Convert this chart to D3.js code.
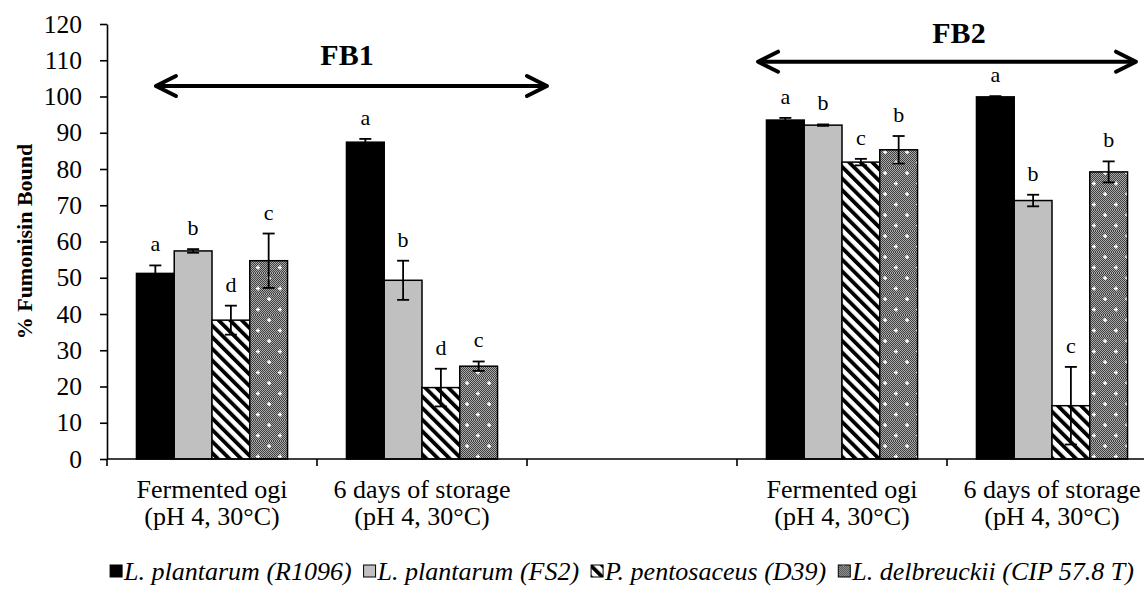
<!DOCTYPE html>
<html>
<head>
<meta charset="utf-8">
<script src="https://cdn.jsdelivr.net/npm/d3@7"></script>
<style>
  body { margin: 0; background: #fff; }
  svg { display: block; font-family: "Liberation Serif", "Times New Roman", serif; }
</style>
</head>
<body>
<script>
// categories (third slot is the empty spacer between FB1 and FB2)
var catLine1 = ["Fermented ogi", "6 days of storage", "", "Fermented ogi", "6 days of storage"];
var catLine2 = ["(pH 4, 30°C)", "(pH 4, 30°C)", "", "(pH 4, 30°C)", "(pH 4, 30°C)"];

var seriesNames = ["L. plantarum (R1096)", "L. plantarum (FS2)", "P. pentosaceus (D39)", "L. delbreuckii (CIP 57.8 T)"];

// % fumonisin bound
var r1096 = [51.2, 87.4, null, 93.5, 99.9];
var fs2   = [57.4, 49.3, null, 92.1, 71.3];
var d39   = [38.3, 19.7, null, 81.9, 14.7];
var cip   = [54.7, 25.6, null, 85.3, 79.2];

// error bars (+/-)
var r1096Err = [2.2, 0.9, null, 0.6, 0.2];
var fs2Err   = [0.5, 5.4, null, 0.2, 1.6];
var d39Err   = [4.0, 5.2, null, 0.9, 10.7];
var cipErr   = [7.5, 1.3, null, 3.8, 2.9];

// significance letters
var r1096Sig = ["a", "a", null, "a", "a"];
var fs2Sig   = ["b", "b", null, "b", "b"];
var d39Sig   = ["d", "d", null, "c", "c"];
var cipSig   = ["c", "c", null, "b", "b"];

var yTicks = [0, 10, 20, 30, 40, 50, 60, 70, 80, 90, 100, 110, 120];

// FB1 / FB2 brackets, in category units and y values
var brackets = [
    { label: "FB1", from: 0.233, to: 2.095, yVal: 102.9, labelX: 1.143, labelY: 108.8 },
    { label: "FB2", from: 3.1, to: 4.9, yVal: 109.6, labelX: 4.057, labelY: 114.8 }
];

var W = 1144, H = 589;
var padL = 107, axisY = 459, axisTop = 24;
var bandW = 210;

var svg = d3.select("body").append("svg")
    .attr("width", W)
    .attr("height", H);

var defs = svg.append("defs");

// diagonal hatch
var hatch = defs.append("pattern")
    .attr("id", "hatch")
    .attr("patternUnits", "userSpaceOnUse")
    .attr("width", 8.2).attr("height", 8.2)
    .attr("patternTransform", "rotate(-45)");
hatch.append("rect").attr("width", 8.2).attr("height", 8.2).attr("fill", "#fff");
hatch.append("rect").attr("width", 3.8).attr("height", 8.2).attr("fill", "#000");

// fine checker underlay
var checker = defs.append("pattern")
    .attr("id", "checker")
    .attr("patternUnits", "userSpaceOnUse")
    .attr("width", 2).attr("height", 2);
checker.append("rect").attr("width", 2).attr("height", 2).attr("fill", "#404040");
checker.append("rect").attr("width", 1).attr("height", 1).attr("fill", "#aaaaaa");
checker.append("rect").attr("x", 1).attr("y", 1).attr("width", 1).attr("height", 1).attr("fill", "#aaaaaa");

// checker with white sparkle dots
var dots = defs.append("pattern")
    .attr("id", "dots")
    .attr("patternUnits", "userSpaceOnUse")
    .attr("width", 22).attr("height", 21);
dots.append("rect").attr("width", 22).attr("height", 21).attr("fill", "url(#checker)");
[[5, 5], [16, 15.5]].forEach(function (p) {
    dots.append("rect").attr("x", p[0] - 2).attr("y", p[1] - 0.6).attr("width", 4).attr("height", 1.4).attr("fill", "#fff");
    dots.append("rect").attr("x", p[0] - 0.6).attr("y", p[1] - 2).attr("width", 1.4).attr("height", 4).attr("fill", "#fff");
});

var fills = ["#000000", "#c0c0c0", "url(#hatch)", "url(#dots)"];

var x0 = d3.scaleBand()
    .domain(d3.range(catLine1.length))
    .range([padL, padL + bandW * catLine1.length])
    .padding(0);

var x1 = d3.scaleBand()
    .domain(d3.range(seriesNames.length))
    .range([0, x0.bandwidth()])
    .paddingInner(0)
    .paddingOuter(0.78);

var y = d3.scaleLinear().domain([0, 120]).range([axisY, axisTop]);

var catX = d3.scaleLinear().domain([0, catLine1.length]).range([padL, padL + bandW * catLine1.length]);

//build the bar data
var values = [r1096, fs2, d39, cip];
var errs = [r1096Err, fs2Err, d39Err, cipErr];
var sigs = [r1096Sig, fs2Sig, d39Sig, cipSig];
var bars = [];
for (var s = 0; s < values.length; s++) {
    for (var c = 0; c < catLine1.length; c++) {
        if (values[s][c] == null) continue;
        bars.push({ s: s, c: c, v: values[s][c], e: errs[s][c], sig: sigs[s][c] });
    }
}

// y axis
var yAxis = svg.append("g")
    .attr("transform", "translate(" + padL + ",0)")
    .call(d3.axisLeft(y).tickValues(yTicks).tickSize(7).tickPadding(18).tickSizeOuter(0));
yAxis.select(".domain").attr("stroke", "#000").attr("stroke-width", 1.6);
yAxis.selectAll(".tick line").attr("stroke", "#000").attr("stroke-width", 1.6);
yAxis.selectAll("text")
    .style("font-family", "'Liberation Serif', serif")
    .style("font-size", "25.5px")
    .attr("fill", "#000");

svg.append("text")
    .attr("transform", "translate(32," + (axisTop + axisY) / 2 + ") rotate(-90)")
    .attr("text-anchor", "middle")
    .style("font-size", "22px")
    .style("font-weight", "bold")
    .text("% Fumonisin Bound");

// bars
svg.selectAll(".bar")
    .data(bars)
    .enter()
    .append("rect")
    .attr("class", "bar")
    .attr("x", function (d) { return x0(d.c) + x1(d.s); })
    .attr("y", function (d) { return y(d.v); })
    .attr("width", x1.bandwidth())
    .attr("height", function (d) { return y(0) - y(d.v); })
    .attr("fill", function (d) { return fills[d.s]; })
    .attr("stroke", "#000")
    .attr("stroke-width", 1.5);

// error bars
var eb = svg.selectAll(".err")
    .data(bars)
    .enter()
    .append("g")
    .attr("class", "err")
    .attr("stroke", "#000")
    .attr("stroke-width", 1.8);
function cx(d) { return x0(d.c) + x1(d.s) + x1.bandwidth() / 2; }
eb.append("line")
    .attr("x1", cx).attr("x2", cx)
    .attr("y1", function (d) { return y(d.v + d.e); })
    .attr("y2", function (d) { return y(d.v - d.e); });
eb.append("line")
    .attr("x1", function (d) { return cx(d) - 6; }).attr("x2", function (d) { return cx(d) + 6; })
    .attr("y1", function (d) { return y(d.v + d.e); })
    .attr("y2", function (d) { return y(d.v + d.e); });
eb.append("line")
    .attr("x1", function (d) { return cx(d) - 6; }).attr("x2", function (d) { return cx(d) + 6; })
    .attr("y1", function (d) { return y(d.v - d.e); })
    .attr("y2", function (d) { return y(d.v - d.e); });

// letters
svg.selectAll(".sig")
    .data(bars)
    .enter()
    .append("text")
    .attr("class", "sig")
    .attr("x", cx)
    .attr("y", function (d) { return y(d.v + d.e) - 14; })
    .attr("text-anchor", "middle")
    .style("font-size", "22px")
    .text(function (d) { return d.sig; });

// x axis
var xAxisG = svg.append("g");
xAxisG.append("line")
    .attr("x1", padL).attr("x2", W)
    .attr("y1", axisY).attr("y2", axisY)
    .attr("stroke", "#000").attr("stroke-width", 1.6);
xAxisG.selectAll(".xtick")
    .data(d3.range(catLine1.length))
    .enter()
    .append("line")
    .attr("x1", function (d) { return x0(d); }).attr("x2", function (d) { return x0(d); })
    .attr("y1", axisY).attr("y2", axisY + 7)
    .attr("stroke", "#000").attr("stroke-width", 1.6);

var catLabels = xAxisG.selectAll(".xlab")
    .data(d3.range(catLine1.length))
    .enter()
    .append("text")
    .attr("text-anchor", "middle")
    .style("font-size", "26px");
catLabels.append("tspan")
    .attr("x", function (d) { return x0(d) + bandW / 2; })
    .attr("y", axisY + 39)
    .text(function (d) { return catLine1[d]; });
catLabels.append("tspan")
    .attr("x", function (d) { return x0(d) + bandW / 2; })
    .attr("y", axisY + 66)
    .text(function (d) { return catLine2[d]; });

// FB brackets
brackets.forEach(function (b) {
    var g = svg.append("g")
        .attr("stroke", "#000")
        .attr("stroke-width", 4)
        .attr("stroke-linecap", "round")
        .attr("stroke-linejoin", "round")
        .attr("fill", "none");
    var xa = catX(b.from), xb = catX(b.to), yy = y(b.yVal);
    g.append("line").attr("x1", xa + 2).attr("x2", xb - 2).attr("y1", yy).attr("y2", yy);
    g.append("path").attr("d", "M" + (xa + 20) + "," + (yy - 10) + "L" + xa + "," + yy + "L" + (xa + 20) + "," + (yy + 10));
    g.append("path").attr("d", "M" + (xb - 20) + "," + (yy - 10) + "L" + xb + "," + yy + "L" + (xb - 20) + "," + (yy + 10));
    svg.append("text")
        .attr("x", catX(b.labelX))
        .attr("y", y(b.labelY))
        .attr("text-anchor", "middle")
        .style("font-size", "30px")
        .style("font-weight", "bold")
        .text(b.label);
});

// legend
var legend = svg.append("g").attr("transform", "translate(0,580)");
var items = [];
seriesNames.forEach(function (nm, i) {
    var g = legend.append("g");
    g.append("rect")
        .attr("x", 0).attr("y", -15)
        .attr("width", 12).attr("height", 12)
        .attr("fill", fills[i])
        .attr("stroke", "#000").attr("stroke-width", 1);
    var t = g.append("text")
        .attr("x", 14)
        .attr("y", 0)
        .style("font-size", "26px")
        .style("font-style", "italic")
        .text(nm);
    var w = 14 + t.node().getComputedTextLength();
    items.push({ g: g, w: w });
});
var gap = 12;
var total = d3.sum(items, function (d) { return d.w; }) + gap * (items.length - 1);
var lx = 622 - total / 2;
items.forEach(function (it) {
    it.g.attr("transform", "translate(" + lx + ",0)");
    lx += it.w + gap;
});
</script>
</body>
</html>
